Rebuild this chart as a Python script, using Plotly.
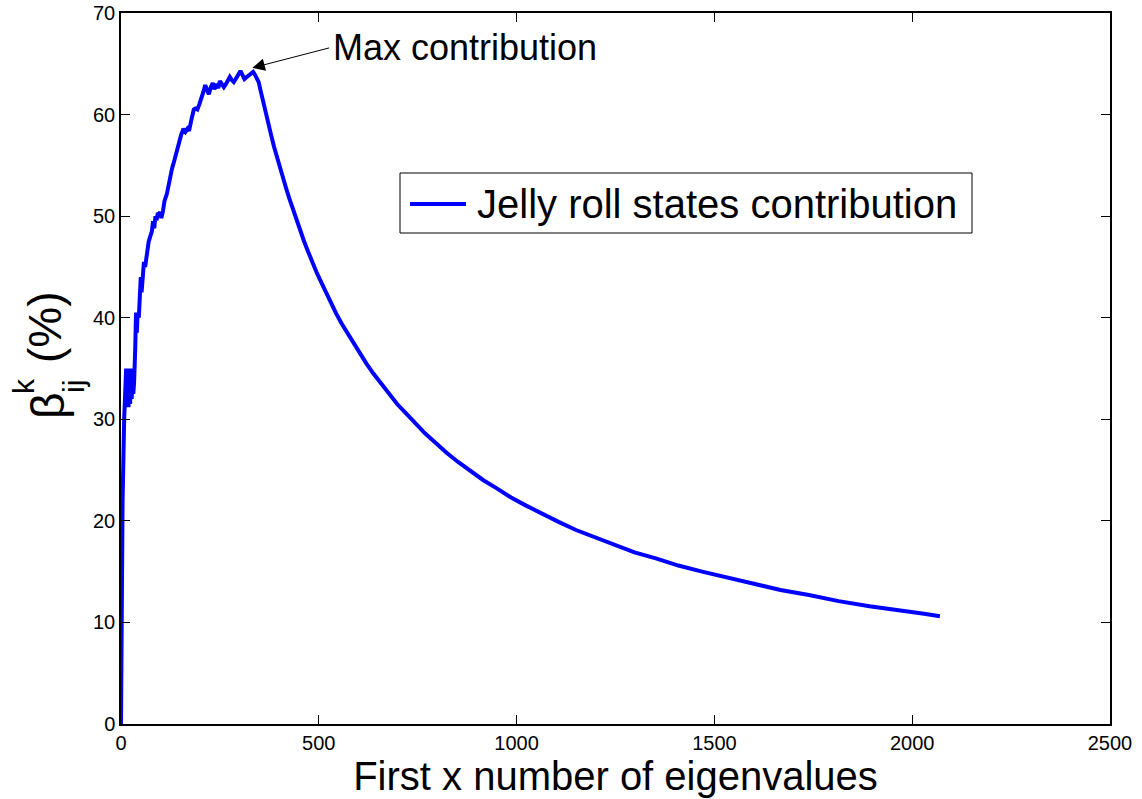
import plotly.graph_objects as go

# Number of leading eigenvalues included
eig_count = [
    0, 1, 4, 8, 11, 13, 15, 17, 19, 21, 23, 25, 27, 29, 31, 33, 36, 38, 40, 42,
    45, 48, 50, 52, 55, 58, 61, 64, 66, 70, 74, 78, 81, 84, 87, 90, 93, 96, 99,
    102, 106, 110, 116, 122, 129, 135, 141, 146, 152, 158, 163, 168, 172, 178,
    184, 188, 193, 198, 203, 208, 213, 218, 222, 227, 232, 236, 241, 246, 250,
    255, 260, 265, 270, 275, 280, 285, 290, 296, 302, 307, 312, 318, 323, 329,
    334, 339, 344,
    348, 352, 357, 362, 368, 374, 380, 387, 394, 401, 409, 417, 425, 434, 443,
    452, 462, 472, 483, 494, 506, 518, 531, 544, 558, 572, 587, 603, 620, 638,
    657, 677, 698, 720, 744, 769, 795, 823, 852, 883, 916, 950, 986, 1024,
    1064, 1106, 1150, 1197, 1246, 1298, 1352, 1409, 1469, 1532, 1598, 1667,
    1739, 1814, 1892, 1973, 2030, 2070,
]

# Jelly roll states contribution (%)
contribution = [
    0, 15, 22, 30, 34.5, 35, 31.5, 34.8, 31.2, 35, 31.5, 34.5, 32, 35, 32.5,
    33.5, 37, 40.5, 38.5, 40.5, 40, 42.5, 44, 42.5, 44, 45.5, 45, 46, 46.5,
    47.5, 48, 48.5, 49.5, 48.8, 50, 49.6, 50.3, 50.2, 50.4, 49.8, 50.5, 51.5,
    52.2, 53.5, 54.7, 55.5, 56.5, 57.3, 58.0, 58.6, 58.3, 58.6, 58.4, 59.5,
    60.5, 60.6, 60.5, 61.0, 61.5, 62.2, 62.9, 62.2, 62.0, 62.7, 63.1, 62.5,
    63.0, 62.6, 63.3, 63.0, 62.7, 63.0, 63.4, 63.7, 63.4, 63.2, 63.5, 63.9,
    64.3, 63.9, 63.5, 63.7, 63.9, 64.1, 64.2, 63.9, 63.6,
    63.2, 62.5, 61.6, 60.8, 59.8, 58.8, 57.9, 56.8, 55.8, 54.9, 53.8, 52.8,
    51.8, 50.7, 49.7, 48.7, 47.6, 46.6, 45.5, 44.5, 43.5, 42.5, 41.4, 40.4,
    39.4, 38.5, 37.5, 36.5, 35.5, 34.5, 33.5, 32.5, 31.5, 30.6, 29.6, 28.6,
    27.7, 26.7, 25.8, 24.9, 24.0, 23.2, 22.3, 21.5, 20.7, 19.9, 19.1, 18.4,
    17.7, 16.9, 16.3, 15.6, 15.0, 14.4, 13.8, 13.2, 12.7, 12.1, 11.6, 11.2,
    10.85, 10.6,
]

x_ticks = [0, 500, 1000, 1500, 2000, 2500]
y_ticks = [0, 10, 20, 30, 40, 50, 60, 70]
series_name = "Jelly roll states contribution"

FONT = "Liberation Sans, Arial, sans-serif"

# plot area in pixels
L, R, T, B = 121, 1110, 13, 724
W, H = 1142, 799


def px(x):
    return (x - L) / (R - L)


def py(y):
    return (B - y) / (B - T)


fig = go.Figure()
fig.add_trace(go.Scatter(
    x=eig_count, y=contribution, mode="lines", name=series_name,
    line=dict(color="#0000FF", width=4), showlegend=False,
))

axis_common = dict(
    showgrid=False, zeroline=False, showline=True, linecolor="black",
    linewidth=1.5, mirror="ticks", ticks="inside", ticklen=9,
    tickcolor="black", tickwidth=1, automargin=False,
    tickfont=dict(family=FONT, size=20, color="black"),
)

fig.update_xaxes(
    range=[0, 2500], tickvals=x_ticks,
    title=dict(text="First x number of eigenvalues",
               font=dict(family=FONT, size=40, color="black"), standoff=6),
    **axis_common,
)
fig.update_yaxes(range=[0, 70], tickvals=y_ticks, **axis_common)

# Y-axis label: beta with stacked super/subscripts
ylab = [
    ("β", 48, 406, 46),
    ("k", 23, 386, 30),
    ("ij", 74, 387, 30),
    ("(%)", 45, 327, 46),
]
for txt, cx, cy, size in ylab:
    fig.add_annotation(
        text=txt, textangle=-90, xref="paper", yref="paper",
        x=px(cx), y=py(cy), xanchor="center", yanchor="middle",
        showarrow=False, font=dict(family=FONT, size=size, color="black"),
    )

# Arrow pointing at the peak
fig.add_annotation(
    x=332, y=64.6, xref="x", yref="y",
    ax=530, ay=66.6, axref="x", ayref="y",
    text="", showarrow=True, arrowhead=2, arrowsize=2.5,
    arrowwidth=1, arrowcolor="black",
)
fig.add_annotation(
    x=530, y=66.6, xref="x", yref="y", text="Max contribution",
    xanchor="left", yanchor="middle", showarrow=False,
    font=dict(family=FONT, size=36, color="black"),
)

# Legend box
fig.add_shape(type="rect", xref="paper", yref="paper",
              x0=px(400), x1=px(972), y0=py(233), y1=py(173),
              line=dict(color="black", width=1), fillcolor="white", layer="above")
fig.add_shape(type="line", xref="paper", yref="paper",
              x0=px(410), x1=px(466), y0=py(204), y1=py(204),
              line=dict(color="#0000FF", width=4), layer="above")
fig.add_annotation(
    text=series_name, xref="paper", yref="paper",
    x=px(475), y=py(204), xanchor="left", yanchor="middle",
    showarrow=False, font=dict(family=FONT, size=40, color="black"),
)

fig.update_layout(
    width=W, height=H,
    margin=dict(l=L, r=W - R, t=T, b=H - B),
    paper_bgcolor="white", plot_bgcolor="white",
    font=dict(family=FONT, color="black"),
    showlegend=False,
)

fig.write_html("out.html")
